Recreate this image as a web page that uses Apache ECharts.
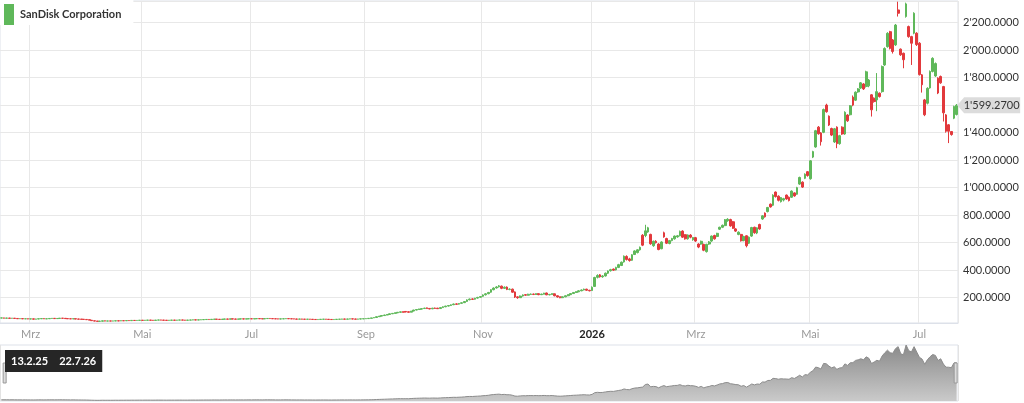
<!DOCTYPE html>
<html><head><meta charset="utf-8">
<script src="https://cdn.jsdelivr.net/npm/echarts@6/dist/echarts.min.js"></script>
<style>html,body{margin:0;padding:0;background:#fff}#c{width:1024px;height:403px}</style>
</head><body><div id="c"></div>
<script>
const seriesName = 'SanDisk Corporation';
const firstDay = '2025-02-13';
const lastDay = '2026-07-22';
const holidays = ['2025-02-17','2025-04-18','2025-05-26','2025-06-19','2025-07-04','2025-09-01','2025-11-27','2025-12-25',
  '2026-01-01','2026-01-19','2026-02-16','2026-04-03','2026-05-25','2026-06-19','2026-07-03'];
const monthNames = ['Jan','Feb','Mrz','Apr','Mai','Jun','Jul','Aug','Sep','Okt','Nov','Dez'];
const lastPrice = 1599.27;

// daily candles per month: [open, close, low, high]
const feb25 = [[52,53,51,55],[53,51,50,54],[51,52,50,53],[52,50,49,53],[50,51,49,52],[51,49,48,52],[49,47,46,50],[47,48,46,49],[48,46,45,49],[46,47,45,48],[47,45,44,48]];
const mar25 = [[45,46,44,47],[46,44,43,47],[44,45,43,46],[45,47,44,48],[47,48,46,49],[48,46,45,49],[46,47,45,48],[47,49,46,50],[49,50,48,51],[50,48,47,51],[48,49,47,50],[49,51,48,52],[51,50,49,52],[50,48,47,51],[48,47,46,49],[47,46,45,48],[46,47,45,48],[47,45,44,48],[45,44,43,46],[44,43,42,45],[43,42,41,44]];
const apr25 = [[42,40,39,43],[40,37,36,41],[36,33,32,37],[32,30,29,33],[30,28,27,31],[28,29,27,32],[29,32,28,33],[32,30,29,33],[30,31,29,32],[31,30,29,32],[30,31,29,32],[31,32,30,33],[32,31,30,33],[31,33,30,34],[33,32,31,34],[32,34,31,35],[34,33,32,35],[33,35,32,36],[35,34,33,36],[34,35,33,36],[35,36,34,37]];
const may25 = [[36,35,34,37],[35,36,34,37],[36,37,35,38],[37,36,35,38],[36,35,34,37],[35,37,34,38],[37,38,36,39],[38,37,36,39],[37,36,35,38],[36,35,34,37],[35,36,34,37],[36,37,35,38],[37,36,35,38],[36,37,35,38],[37,38,36,39],[38,37,36,39],[37,36,35,38],[36,37,35,38],[37,38,36,39],[38,39,37,40],[39,38,37,40]];
const jun25 = [[38,39,37,40],[39,40,38,41],[40,41,39,42],[41,42,40,43],[42,41,40,43],[41,43,40,44],[43,44,42,45],[44,43,42,45],[43,42,41,44],[42,44,41,45],[44,45,43,46],[45,44,43,46],[44,46,43,47],[46,45,44,47],[45,44,43,46],[44,45,43,46],[45,46,44,47],[46,45,44,47],[45,46,44,47],[46,47,45,48]];
const jul25 = [[47,46,45,48],[46,47,45,48],[47,48,46,49],[48,47,46,49],[47,46,45,48],[46,48,45,49],[48,49,47,50],[49,48,47,50],[48,47,46,49],[47,46,45,48],[46,45,44,47],[45,46,44,47],[46,47,45,48],[47,48,46,49],[48,47,46,49],[47,46,45,48],[46,45,44,47],[45,44,43,46],[44,45,43,46],[45,44,43,46],[44,43,42,45],[43,44,42,45]];
const aug25 = [[44,43,42,45],[43,42,41,44],[42,41,40,43],[41,42,40,43],[42,43,41,44],[43,44,42,45],[44,43,42,45],[43,42,41,44],[42,41,40,43],[41,42,40,43],[42,43,41,44],[43,44,42,45],[44,45,43,46],[45,44,43,46],[44,45,43,46],[45,46,44,47],[46,45,44,47],[45,44,43,46],[44,45,43,46],[45,46,44,47],[46,47,45,48]];
const sep25 = [[47,48,46,49],[48,50,47,51],[50,53,49,54],[53,56,52,57],[56,62,55,63],[62,66,60,67],[66,70,64,72],[70,74,68,76],[74,78,72,80],[78,83,76,85],[83,86,81,88],[86,90,84,92],[90,94,88,96],[94,97,91,99],[97,95,92,100],[100,96,94,102],[98,94,91,101],[95,102,93,104],[103,110,101,112],[110,114,108,117],[114,117,112,120]];
const oct25 = [[117,120,114,123],[121,124,118,127],[126,121,119,128],[122,118,116,125],[119,124,117,126],[125,122,119,128],[124,120,118,126],[121,128,119,130],[128,134,126,137],[134,139,131,141],[139,143,136,146],[143,148,140,151],[149,154,146,157],[155,152,149,159],[153,158,150,161],[159,163,156,166],[164,172,161,175],[173,184,170,188],[185,190,181,194],[191,188,184,195],[189,196,186,199],[197,202,193,206],[203,208,200,212]];
const nov25 = [[210,220,206,224],[221,228,216,233],[229,238,225,242],[240,258,236,262],[258,270,254,275],[271,278,266,284],[279,286,274,292],[284,268,262,288],[268,276,264,282],[277,260,255,282],[260,262,254,268],[262,240,236,266],[242,205,198,246],[206,200,192,210],[200,212,198,216],[212,220,208,224],[222,218,214,226],[218,225,215,229],[224,226,220,231]];
const dec25 = [[226,224,219,230],[224,228,220,232],[229,222,218,231],[222,226,219,229],[226,232,223,236],[234,221,218,237],[221,224,217,227],[225,228,221,232],[228,214,210,230],[214,205,201,217],[206,200,196,209],[200,206,198,209],[206,214,204,217],[214,222,211,225],[222,230,219,233],[230,238,227,241],[238,243,235,247],[243,250,240,254],[250,256,247,260],[256,262,253,266],[262,254,250,265],[254,250,246,257]];
const jan26 = [[252,276,250,282],[282,347,278,352],[348,362,340,370],[366,352,346,372],[352,358,345,364],[358,378,354,383],[378,394,372,398],[396,404,390,410],[408,400,395,412],[402,420,398,425],[420,440,415,446],[434,458,430,463],[460,502,455,507],[500,478,470,508],[482,470,462,490],[472,512,468,516],[514,540,510,545],[528,548,522,552],[548,566,542,572],[654,582,575,662]];
const feb26 = [[652,686,640,730],[678,708,672,715],[660,592,585,665],[578,610,570,615],[610,600,594,618],[590,550,545,596],[556,605,552,610],[672,642,636,680],[630,596,590,636],[594,615,588,620],[615,630,610,635],[628,648,622,652],[642,650,636,656],[650,682,646,688],[684,640,634,690],[658,628,622,662],[628,656,622,660],[655,640,632,662],[622,636,614,642]];
const mar26 = [[636,612,606,642],[590,568,560,596],[590,610,585,615],[588,545,538,592],[535,588,528,592],[590,605,584,612],[612,648,606,652],[652,628,622,658],[645,668,640,672],[698,712,692,716],[712,726,706,732],[724,766,720,772],[760,770,752,778],[768,722,716,774],[752,705,700,758],[700,684,678,705],[660,676,654,682],[660,614,608,664],[615,645,610,650],[650,578,566,654],[596,640,590,645],[648,710,642,715]];
const apr26 = [[712,672,665,716],[670,708,662,712],[732,700,694,738],[772,795,766,800],[815,788,782,820],[826,856,820,860],[880,860,855,885],[872,945,866,952],[968,935,928,972],[938,908,900,944],[898,928,892,932],[910,920,900,926],[946,918,912,950],[930,906,900,936],[930,975,925,980],[962,940,934,966],[952,1000,948,1006],[1026,1074,1020,1080],[1040,1004,998,1046],[1068,1098,1062,1104],[1116,1088,1080,1120]];
const may26 = [[1065,1195,1058,1200],[1222,1262,1215,1268],[1296,1414,1290,1420],[1440,1392,1385,1448],[1398,1334,1306,1404],[1402,1568,1396,1575],[1600,1552,1545,1610],[1520,1455,1448,1525],[1430,1382,1375,1436],[1332,1428,1325,1434],[1440,1320,1287,1446],[1320,1378,1312,1384],[1440,1390,1384,1446],[1390,1548,1384,1555],[1528,1486,1478,1534],[1530,1595,1524,1600],[1658,1600,1592,1670],[1636,1694,1630,1700],[1696,1718,1690,1724],[1724,1762,1718,1768]];
const jun26 = [[1754,1718,1710,1760],[1736,1842,1728,1850],[1740,1782,1730,1790],[1675,1566,1517,1680],[1650,1626,1618,1656],[1638,1698,1556,1833],[1687,1662,1655,1692],[1698,1880,1690,1888],[1892,2012,1885,2020],[2025,2122,2018,2130],[2134,2014,2005,2140],[2074,1990,1975,2080],[2038,2182,2030,2190],[2292,2268,2244,2352],[2007,1966,1958,2012],[1977,1930,1868,1982],[2244,2336,2236,2345],[2171,2098,2090,2178],[2098,2050,1892,2104],[2123,2268,2115,2275],[2123,2040,2030,2130]];
const jul26 = [[2050,1822,1815,2058],[1820,1748,1691,1826],[1638,1530,1520,1645],[1614,1722,1605,1730],[1725,1845,1720,1852],[1845,1940,1838,1948],[1812,1902,1805,1910],[1796,1688,1680,1802],[1808,1762,1755,1815],[1735,1544,1481,1740],[1529,1410,1400,1535],[1457,1410,1324,1462],[1408,1386,1378,1412],[1505,1590,1498,1596],[1532,1599.27,1525,1608]];

const candles = [].concat(feb25,mar25,apr25,may25,jun25,jul25,aug25,sep25,oct25,nov25,dec25,jan26,feb26,mar26,apr26,may26,jun26,jul26);
const closes = candles.map(r => r[1]);

// trading-day categories
const dates = [];
for (let t = Date.parse(firstDay); t <= Date.parse(lastDay); t += 86400000) {
  const d = new Date(t), wd = d.getUTCDay(), s = d.toISOString().slice(0,10);
  if (wd === 0 || wd === 6 || holidays.indexOf(s) >= 0) continue;
  dates.push(s);
}
if (dates.length !== candles.length) console.log('length mismatch', dates.length, candles.length);

const UP = '#5fb85a', DOWN = '#e2393c';
const monthTick = (i) => i > 0 && dates[i].slice(5,7) !== dates[i-1].slice(5,7) && (parseInt(dates[i].slice(5,7),10) - 1) % 2 === 0;
const yearTick = (i) => i > 0 && dates[i].slice(0,4) !== dates[i-1].slice(0,4);
const fmtNum = (v) => { const p = Number(v).toFixed(4).split('.'); return p[0].replace(/\B(?=(\d{3})+(?!\d))/g, "'") + '.' + p[1]; };
const fmtDate = (s) => { const [y,m,d] = s.split('-'); return parseInt(d,10) + '.' + parseInt(m,10) + '.' + y.slice(2); };

const chart = echarts.init(document.getElementById('c'));
chart.setOption({
  animation: false,
  textStyle: { fontFamily: 'Lato' },
  title: {
    text: '{d|' + fmtDate(dates[0]) + '}{g|}{d|' + fmtDate(dates[dates.length-1]) + '}',
    left: 5, top: 350, padding: [2, 6], backgroundColor: '#262626',
    textStyle: { rich: { d: { color: '#fff', fontSize: 11, fontFamily: 'Lato', lineHeight: 12 }, g: { width: 11 } } }
  },
  legend: {
    data: [seriesName], left: 0, top: 0, icon: 'rect', itemWidth: 8, itemHeight: 19,
    padding: [4, 12, 0, 4], backgroundColor: '#fff', selectedMode: false,
    textStyle: { fontWeight: 'bold', fontSize: 11, color: '#333', fontFamily: 'Lato', padding: [0, 0, 0, 2] }
  },
  grid: [
    { left: 0, right: 66, top: 1, bottom: 80, show: true, borderColor: '#dde1e9', borderWidth: 1 },
    { left: 0, right: 66, top: 345, height: 56 }
  ],
  xAxis: [
    { type: 'category', data: dates, boundaryGap: true,
      axisLine: { lineStyle: { color: '#dde1e9' } }, axisTick: { show: false },
      axisLabel: { interval: monthTick, color: '#999', fontSize: 11, margin: 6,
        formatter: (v) => v.slice(5,7) === '01' ? '{y|' + v.slice(0,4) + '}' : monthNames[parseInt(v.slice(5,7),10)-1],
        rich: { y: { fontWeight: 'bold', color: '#222', fontSize: 11 } } },
      splitLine: { show: true, interval: monthTick, lineStyle: { color: '#e8e8e8' } } },
    { type: 'category', gridIndex: 1, data: dates, boundaryGap: true,
      axisLine: { show: false }, axisTick: { show: false },
      axisLabel: { inside: true, interval: yearTick, formatter: (v) => v.slice(0,4), color: 'rgba(255,255,255,0.55)', align: 'left', fontSize: 11, margin: 4 },
      splitLine: { show: true, interval: yearTick, lineStyle: { color: '#e3e3e3' } } }
  ],
  yAxis: [
    { type: 'value', position: 'right', min: 16, max: 2357, splitNumber: 12, minInterval: 200, maxInterval: 200,
      axisLine: { show: false }, axisTick: { show: false },
      axisLabel: { color: '#333', fontSize: 11, margin: 5, showMinLabel: false, showMaxLabel: false, formatter: fmtNum },
      splitLine: { lineStyle: { color: '#e8e8e8' } } },
    { type: 'value', gridIndex: 1, min: 0, max: 'dataMax', show: false }
  ],
  dataZoom: [{
    type: 'slider', xAxisIndex: 0, left: 3, right: 68, top: 345, height: 56,
    showDetail: false, showDataShadow: false, brushSelect: false, moveHandleSize: 0,
    borderColor: 'rgba(0,0,0,0)', backgroundColor: 'rgba(0,0,0,0)', fillerColor: 'rgba(0,0,0,0)',
    handleIcon: 'path://M0,0L3,0L3,20L0,20Z', handleSize: 20,
    handleStyle: { color: '#dcdcdc', borderColor: '#999', borderWidth: 1 },
    emphasis: { handleStyle: { color: '#dcdcdc', borderColor: '#999' } }
  }],
  graphic: [],
  series: [
    { name: seriesName, type: 'candlestick', data: candles, barWidth: '85%', clip: false,
      itemStyle: { color: UP, color0: DOWN, borderColor: UP, borderColor0: DOWN, borderWidth: 1 },
      markPoint: {
        symbol: 'path://M0,8L7,0L63,0L63,16L7,16Z', symbolSize: [63, 16], symbolOffset: [32, 0], silent: true,
        itemStyle: { color: '#dcdcdc' },
        label: { show: true, position: 'inside', offset: [3, 0], color: '#333', fontSize: 11, fontFamily: 'Lato', formatter: (p) => fmtNum(p.value) },
        data: [{ coord: [dates[dates.length-1], lastPrice], value: lastPrice }]
      } },
    { type: 'line', xAxisIndex: 1, yAxisIndex: 1, data: closes, symbol: 'none', silent: true,
      lineStyle: { color: '#8c8c8c', width: 1 },
      areaStyle: { opacity: 1, color: new echarts.graphic.LinearGradient(0, 0, 0, 1, [{ offset: 0, color: '#8a8a8a' }, { offset: 1, color: '#cacaca' }]) } }
  ]
});
// frame of the navigator area drawn by the second grid
chart.setOption({ grid: [{}, { show: true, borderColor: '#dde1e9', borderWidth: 1 }] });
</script></body></html>
